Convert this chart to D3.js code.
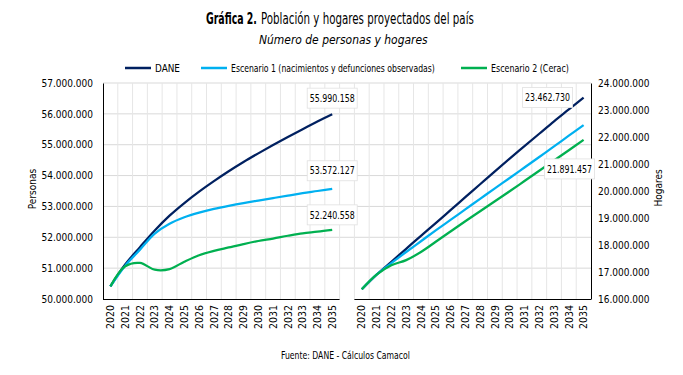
<!DOCTYPE html>
<html>
<head>
<meta charset="utf-8">
<script src="https://cdn.jsdelivr.net/npm/d3@7"></script>
<style>
  body { margin: 0; background: #fff; }
  svg { font-family: "DejaVu Sans Condensed", "DejaVu Sans", sans-serif; }
</style>
</head>
<body>
<svg width="683" height="375"></svg>
<script>
// years shown under each panel
let years = [2020, 2021, 2022, 2023, 2024, 2025, 2026, 2027, 2028, 2029, 2030, 2031, 2032, 2033, 2034, 2035]

// personas (left axis)
let personasDane = [50410000, 51120000, 51680000, 52220000, 52700000, 53110000, 53480000, 53820000, 54140000, 54440000, 54720000, 54990000, 55250000, 55500000, 55750000, 55990158]
let personasEsc1 = [50410000, 51080000, 51600000, 52120000, 52440000, 52650000, 52800000, 52920000, 53020000, 53110000, 53190000, 53270000, 53350000, 53430000, 53500000, 53572127]
let personasEsc2 = [50410000, 51060000, 51170000, 50950000, 50970000, 51210000, 51420000, 51560000, 51670000, 51780000, 51880000, 51960000, 52050000, 52130000, 52180000, 52240558]

// hogares (right axis)
let hogaresDane = [16360000, 16900000, 17380000, 17860000, 18340000, 18810000, 19290000, 19770000, 20250000, 20730000, 21200000, 21660000, 22120000, 22580000, 23020000, 23462730]
let hogaresEsc1 = [16360000, 16900000, 17330000, 17740000, 18140000, 18540000, 18930000, 19320000, 19710000, 20100000, 20480000, 20870000, 21260000, 21650000, 22050000, 22440000]
let hogaresEsc2 = [16360000, 16900000, 17250000, 17440000, 17740000, 18120000, 18500000, 18880000, 19250000, 19620000, 19990000, 20370000, 20750000, 21130000, 21510000, 21891457]

let seriesNames = ["DANE", "Escenario 1 (nacimientos y defunciones observadas)", "Escenario 2 (Cerac)"]
let seriesColors = ["#002060", "#00b0f0", "#00b050"]

let personasTicks = [50000000, 51000000, 52000000, 53000000, 54000000, 55000000, 56000000, 57000000]
let hogaresTicks = [16000000, 17000000, 18000000, 19000000, 20000000, 21000000, 22000000, 23000000, 24000000]

let plotLeft = 103, plotRight = 591, plotTop = 83, plotBottom = 299

let svg = d3.select("svg")
let fmt = d3.formatLocale({decimal: ",", thousands: ".", grouping: [3], currency: ["$", ""]}).format(",.0f")

// squeeze a text horizontally to a given width (the source font is narrower than DejaVu)
let squeeze = (sel, x, y, w, anchor) => {
  let n = sel.node().getComputedTextLength()
  let k = w / n
  let x0 = anchor == "middle" ? x - w / 2 : x
  sel.attr("text-anchor", "start").attr("x", 0).attr("y", 0)
     .attr("transform", "translate(" + x0 + "," + y + ") scale(" + k + ",1)")
}

// one category axis: 16 years, one empty slot, 16 years
let cats = years.map(y => "p" + y).concat(["gap"]).concat(years.map(y => "h" + y))
let xScale = d3.scaleBand().domain(cats).range([plotLeft, plotRight]).paddingInner(0).paddingOuter(0)
let yLeft = d3.scaleLinear().domain([50000000, 57000000]).range([plotBottom, plotTop])
let yRight = d3.scaleLinear().domain([16000000, 24000000]).range([plotBottom, plotTop])

// gridlines
let grid = svg.append("g")
grid.selectAll(".hg").data(personasTicks.slice(1))
  .enter().append("line")
  .attr("x1", plotLeft).attr("x2", plotRight)
  .attr("y1", d => yLeft(d)).attr("y2", d => yLeft(d))
  .attr("stroke", "#d9d9d9").attr("stroke-width", 1)
grid.selectAll(".vg").data(cats.slice(1))
  .enter().append("line")
  .attr("x1", d => xScale(d)).attr("x2", d => xScale(d))
  .attr("y1", plotTop).attr("y2", plotBottom)
  .attr("stroke", "#e6e6e6").attr("stroke-width", 1)

// axes
let yAxisL = d3.axisLeft(yLeft).tickValues(personasTicks).tickFormat(fmt).tickSize(0).tickPadding(10)
svg.append("g").attr("transform", "translate(" + plotLeft + ",0)").call(yAxisL)
let yAxisR = d3.axisRight(yRight).tickValues(hogaresTicks).tickFormat(fmt).tickSize(0).tickPadding(7)
svg.append("g").attr("transform", "translate(" + plotRight + ",0)").call(yAxisR)

let xAxis = d3.axisBottom(xScale).tickSize(0).tickFormat(d => d == "gap" ? "" : d.slice(1))
let xg = svg.append("g").attr("transform", "translate(0," + plotBottom + ")").call(xAxis)
xg.select(".domain").remove()
xg.selectAll("text")
  .attr("transform", "rotate(-90)")
  .attr("text-anchor", "end")
  .attr("x", -6).attr("y", 0).attr("dy", "0.35em")

svg.selectAll(".tick text").attr("font-size", 10).attr("fill", "#000")
xg.selectAll(".tick text").attr("font-size", 10.5)
svg.selectAll("g").attr("font-family", null)
svg.selectAll(".domain").attr("stroke", "#000").attr("stroke-width", 1)

// bottom axis line, one piece per panel
let pieces = [[cats[0], cats[15]], [cats[17], cats[32]]]
svg.selectAll(".xline").data(pieces).enter().append("line")
  .attr("x1", d => xScale(d[0])).attr("x2", d => xScale(d[1]) + xScale.bandwidth())
  .attr("y1", plotBottom + 0.5).attr("y2", plotBottom + 0.5)
  .attr("stroke", "#000").attr("stroke-width", 1)

// lines
let lineL = d3.line().x((d, i) => xScale("p" + years[i]) + xScale.bandwidth() / 2).y(d => yLeft(d)).curve(d3.curveCatmullRom)
let lineR = d3.line().x((d, i) => xScale("h" + years[i]) + xScale.bandwidth() / 2).y(d => yRight(d)).curve(d3.curveCatmullRom)

let personas = [personasDane, personasEsc1, personasEsc2]
let hogares = [hogaresDane, hogaresEsc1, hogaresEsc2]
personas.forEach((s, i) => {
  svg.append("path").attr("d", lineL(s)).attr("fill", "none")
    .attr("stroke", seriesColors[i]).attr("stroke-width", 2.25)
})
hogares.forEach((s, i) => {
  svg.append("path").attr("d", lineR(s)).attr("fill", "none")
    .attr("stroke", seriesColors[i]).attr("stroke-width", 2.25)
})

// data labels on the last point
let lastX = xScale("p2035") + xScale.bandwidth() / 2
let lastXR = xScale("h2035") + xScale.bandwidth() / 2
let labels = [
  {x: lastX, y: yLeft(personasDane[15]) - 16, v: personasDane[15]},
  {x: lastX, y: yLeft(personasEsc1[15]) - 18, v: personasEsc1[15]},
  {x: lastX, y: yLeft(personasEsc2[15]) - 15, v: personasEsc2[15]},
  {x: lastXR - 36, y: yRight(hogaresDane[15]), v: hogaresDane[15]},
  {x: lastXR - 14, y: yRight(hogaresEsc2[15]) + 29, v: hogaresEsc2[15]}
]
labels.forEach(d => {
  svg.append("rect")
    .attr("x", d.x - 25).attr("y", d.y - 10)
    .attr("width", 50).attr("height", 20)
    .attr("fill", "#fff").attr("stroke", "#e0e0e0").attr("stroke-width", 0.8)
  let t = svg.append("text").attr("dy", "0.35em").attr("font-size", 10.5).text(fmt(d.v))
  squeeze(t, d.x, d.y, 45, "middle")
})

// axis titles
svg.append("text").attr("transform", "translate(36,189) rotate(-90)")
  .attr("text-anchor", "middle").attr("font-size", 10).text("Personas")
svg.append("text").attr("transform", "translate(662,188) rotate(-90)")
  .attr("text-anchor", "middle").attr("font-size", 10).text("Hogares")

// title, bold part and plain part
let t1 = svg.append("text").attr("font-size", 15).attr("font-weight", "bold").text("Gráfica 2.")
squeeze(t1, 206, 24, 51, "start")
let t2 = svg.append("text").attr("font-size", 15).text("Población y hogares proyectados del país")
squeeze(t2, 261, 24, 213, "start")
let t3 = svg.append("text").attr("font-size", 13).attr("font-style", "italic").text("Número de personas y hogares")
squeeze(t3, 343.5, 44, 169, "middle")

// legend
let legendX = [125, 201, 461]
let legendW = [25, 204, 78]
seriesNames.forEach((name, i) => {
  svg.append("line").attr("x1", legendX[i]).attr("x2", legendX[i] + 26).attr("y1", 68).attr("y2", 68)
    .attr("stroke", seriesColors[i]).attr("stroke-width", 2.5)
  let t = svg.append("text").attr("dy", "0.35em").attr("font-size", 11).text(name)
  squeeze(t, legendX[i] + 30, 68, legendW[i], "start")
})

// footer
let ft = svg.append("text").attr("font-size", 11).text("Fuente: DANE - Cálculos Camacol")
squeeze(ft, 345.5, 359, 129, "middle")
</script>
</body>
</html>
